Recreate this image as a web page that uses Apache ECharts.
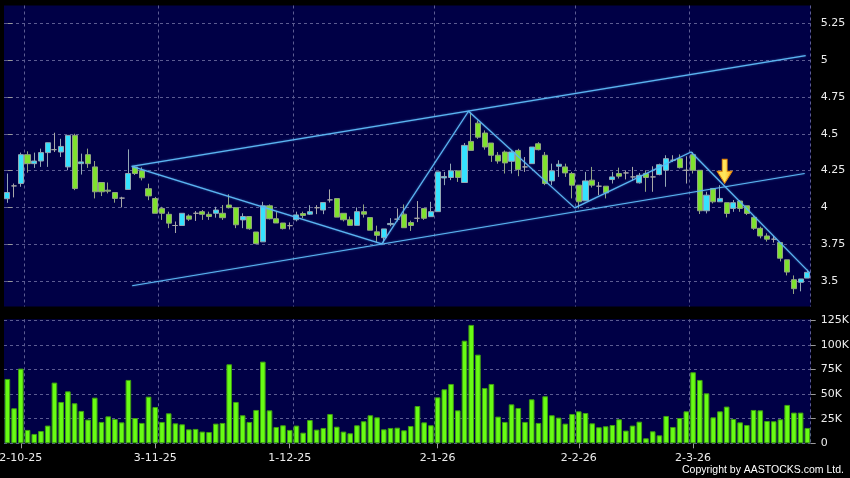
<!DOCTYPE html>
<html>
<head>
<meta charset="utf-8">
<script src="https://cdn.jsdelivr.net/npm/echarts@6/dist/echarts.min.js"></script>
<style>
html,body{margin:0;padding:0;background:#000;}
#c{width:850px;height:478px;}
</style>
</head>
<body>
<div id="c"></div>
<script>
// ---- data ----
var opens = [4.059,4.146,4.162,4.358,4.297,4.315,4.372,4.392,4.376,4.275,4.489,4.297,4.358,4.275,4.169,4.117,4.101,4.063,4.122,4.274,
4.25,4.127,4.06,3.993,3.953,3.877,3.877,3.942,3.96,3.971,3.953,3.96,3.96,4.016,3.998,3.915,3.938,3.833,3.766,4.011,
3.923,3.894,3.876,3.916,3.958,3.954,3.998,3.982,4.051,4.06,3.96,3.916,3.878,3.971,3.931,3.834,3.794,3.883,3.92,3.954,
3.897,3.926,3.993,3.937,3.971,4.2,4.203,4.248,4.169,4.448,4.572,4.505,4.437,4.354,4.376,4.313,4.387,4.275,4.297,4.432,
4.354,4.18,4.279,4.275,4.23,4.151,4.045,4.185,4.144,4.144,4.189,4.23,4.234,4.207,4.167,4.23,4.207,4.223,4.252,4.32,
4.331,4.252,4.358,4.252,3.977,4.128,4.038,4.032,3.993,4.043,4.011,3.932,3.858,3.806,3.784,3.761,3.644,3.509,3.491,3.52];
var closes = [4.101,4.146,4.358,4.297,4.315,4.372,4.439,4.392,4.414,4.489,4.128,4.309,4.297,4.106,4.106,4.11,4.061,4.063,4.23,4.23,
4.201,4.078,3.96,3.96,3.893,3.877,3.96,3.92,3.96,3.953,3.938,3.982,3.93,3.998,3.882,3.938,3.855,3.754,4.011,3.923,
3.894,3.856,3.876,3.949,3.945,3.971,3.998,4.033,4.051,3.934,3.916,3.878,3.971,3.954,3.845,3.81,3.854,3.891,3.92,3.862,
3.877,3.926,3.926,3.971,4.241,4.21,4.248,4.203,4.421,4.387,4.477,4.41,4.354,4.315,4.302,4.376,4.257,4.275,4.41,4.392,
4.162,4.248,4.293,4.234,4.151,4.038,4.18,4.151,4.144,4.099,4.207,4.212,4.234,4.207,4.218,4.203,4.207,4.29,4.331,4.32,
4.27,4.252,4.252,3.977,4.083,4.038,4.061,3.959,4.032,3.993,3.959,3.858,3.806,3.784,3.784,3.655,3.561,3.448,3.514,3.559];
var lows = [4.031,4.068,4.14,4.236,4.268,4.275,4.275,4.376,4.342,4.252,4.117,4.223,4.268,4.061,4.077,4.095,4.032,4.0,4.122,4.22,
4.183,4.049,3.96,3.915,3.859,3.826,3.877,3.908,3.908,3.915,3.915,3.93,3.915,3.993,3.859,3.859,3.848,3.75,3.766,3.918,
3.894,3.85,3.85,3.905,3.927,3.949,3.954,3.954,4.033,3.934,3.905,3.878,3.878,3.931,3.845,3.765,3.761,3.872,3.905,3.862,
3.84,3.9,3.915,3.937,3.971,4.151,4.185,4.173,4.169,4.387,4.465,4.392,4.309,4.297,4.23,4.23,4.212,4.241,4.297,4.387,
4.151,4.151,4.207,4.207,4.061,3.993,4.045,4.135,4.083,4.061,4.162,4.196,4.19,4.18,4.162,4.106,4.106,4.218,4.14,4.309,
4.264,4.162,4.23,3.955,3.959,4.027,4.038,3.932,3.97,3.97,3.948,3.847,3.79,3.768,3.761,3.633,3.538,3.412,3.43,3.52];
var highs = [4.23,4.162,4.372,4.381,4.372,4.399,4.44,4.507,4.466,4.489,4.5,4.365,4.399,4.315,4.169,4.169,4.101,4.072,4.394,4.28,
4.272,4.161,4.071,4.004,3.971,3.904,3.96,3.953,3.975,3.982,3.971,4.004,4.016,4.089,3.998,3.96,3.938,3.833,4.038,4.02,
3.971,3.894,3.898,3.971,3.971,4.015,4.015,4.033,4.122,4.06,3.96,3.938,4.0,4.02,3.931,3.876,3.854,3.927,3.993,4.02,
3.91,4.043,3.993,4.038,4.241,4.241,4.297,4.248,4.437,4.646,4.59,4.523,4.437,4.376,4.387,4.387,4.398,4.342,4.41,4.443,
4.376,4.297,4.32,4.297,4.241,4.151,4.241,4.275,4.173,4.144,4.241,4.27,4.252,4.275,4.234,4.252,4.279,4.297,4.354,4.354,
4.36,4.347,4.376,4.252,4.106,4.128,4.151,4.032,4.05,4.05,4.011,3.941,3.869,3.824,3.806,3.761,3.644,3.538,3.514,3.577];
// volume in thousands of shares
var volumes = [65.4,35.6,75.9,13.6,9.5,12.5,18.0,61.7,42.0,52.8,40.7,32.9,24.1,46.4,21.7,27.4,24.7,21.3,64.4,25.7,
20.7,47.4,36.9,21.7,30.5,20.3,19.3,14.2,14.6,11.9,11.5,20.0,20.7,80.3,42.0,28.5,21.7,33.9,83.0,33.5,
16.6,18.3,13.6,18.0,10.8,23.7,13.9,15.6,29.8,16.9,11.9,10.2,18.3,22.4,28.5,26.4,14.2,15.6,15.9,13.2,
17.6,37.9,21.3,18.3,46.7,54.9,60.3,33.5,104.3,120.3,90.1,56.2,60.3,27.1,21.7,39.6,35.9,21.7,44.7,20.7,
47.8,28.5,26.1,20.0,29.8,32.5,30.8,20.3,16.3,17.3,18.6,24.4,12.9,18.0,22.0,5.1,12.2,8.1,27.8,16.6,
25.7,32.5,72.2,64.4,50.8,26.4,32.5,37.3,24.7,21.3,18.6,33.9,33.5,22.7,22.4,24.4,39.0,31.2,31.2,15.6];
// x-axis tick labels and the bar index each one belongs to
var dateLabels = ['2-10-25','3-11-25','1-12-25','2-1-26','2-2-26','2-3-26'];
var dateLabelIdx = [2,22,42,64,85,102];
var gridLineIdx = [3,23,43,64,85,102];
var priceTicks = [3.5,3.75,4,4.25,4.5,4.75,5,5.25];
var volTicks = [0,25,50,75,100,125];
// trend lines: [bar index, price]
var upperChannel = [[18.5,4.279],[118.75,5.03]];
var lowerChannel = [[18.56,3.468],[118.6,4.23]];
var zigzag = [[18.5,4.279],[55.7,3.752],[68.6,4.653],[84.4,3.997],[101.7,4.376],[119.4,3.554]];
var arrowPoint = [106.7,4.245];

var categories = opens.map(function(_, i){ return String(i); });
var candleData = opens.map(function(o, i){ return [o, closes[i], lows[i], highs[i]]; });

var gridColor = '#5c5c92';
var labelColor = '#ececec';
var lineColor = '#5cb6f2';

var chart = echarts.init(document.getElementById('c'), null, {renderer:'canvas'});
var option = {
  animation: false,
  backgroundColor: '#000',
  grid: [
    {left: 4, right: 39.3, top: 5.5, height: 301, show: true, backgroundColor: '#000046', borderWidth: 0,
     containLabel: false, outerBoundsMode: 'none'},
    {left: 4, right: 39.3, top: 319.3, height: 124, show: true, backgroundColor: '#000046', borderWidth: 0,
     containLabel: false, outerBoundsMode: 'none'}
  ],
  xAxis: [
    {type: 'category', gridIndex: 0, data: categories, boundaryGap: true,
     axisLine: {show: false}, axisTick: {show: false}, axisLabel: {show: false},
     splitLine: {show: true, interval: function(i){ return gridLineIdx.indexOf(i) >= 0; },
                 lineStyle: {color: gridColor, type: [3,3], width: 1}}},
    {type: 'category', gridIndex: 1, data: categories, boundaryGap: true,
     axisLine: {show: false},
     axisTick: {show: true, alignWithLabel: true, length: 5,
                interval: function(i){ return dateLabelIdx.indexOf(i) >= 0; },
                lineStyle: {color: '#9a9a9a'}},
     axisLabel: {show: true, margin: 9, color: labelColor, fontSize: 11, fontFamily: 'DejaVu Sans',
                 interval: function(i){ return dateLabelIdx.indexOf(i) >= 0; },
                 formatter: function(v, i){ var k = dateLabelIdx.indexOf(i); return k >= 0 ? dateLabels[k] : ''; }},
     splitLine: {show: true, interval: function(i){ return gridLineIdx.indexOf(i) >= 0; },
                 lineStyle: {color: gridColor, type: [3,3], width: 1}}},
    {type: 'value', gridIndex: 0, min: -0.5, max: 119.5, show: false}
  ],
  yAxis: [
    {type: 'value', gridIndex: 0, position: 'right', min: 3.327, max: 5.371, scale: true,
     axisLine: {show: false},
     axisTick: {show: true, length: 5, customValues: priceTicks, lineStyle: {color: '#9a9a9a'}},
     axisLabel: {show: true, margin: 10, color: labelColor, fontSize: 11, fontFamily: 'DejaVu Sans',
                 customValues: priceTicks},
     splitLine: {show: true, lineStyle: {color: gridColor, type: [3,3], width: 1}}},
    {type: 'value', gridIndex: 1, position: 'right', min: 0, max: 126,
     axisLine: {show: false},
     axisTick: {show: true, length: 5, customValues: volTicks, lineStyle: {color: '#9a9a9a'}},
     axisLabel: {show: true, margin: 10, color: labelColor, fontSize: 11, fontFamily: 'DejaVu Sans',
                 customValues: volTicks,
                 formatter: function(v){ return v === 0 ? '0' : v + 'K'; }},
     splitLine: {show: true, lineStyle: {color: gridColor, type: [3,3], width: 1}}}
  ],
  series: [
    {type: 'candlestick', xAxisIndex: 0, yAxisIndex: 0, data: candleData, barWidth: 5.6,
     itemStyle: {color: '#35e2ff', color0: '#7fe22e', borderColor: '#93a7b4', borderColor0: '#92a482',
                 borderColorDoji: '#a8a8a8', borderWidth: 1}},
    {type: 'bar', xAxisIndex: 1, yAxisIndex: 1, data: volumes, barWidth: 5.6,
     itemStyle: {color: '#68fc14', borderColor: '#3f9e12', borderWidth: 1}},
    {type: 'line', xAxisIndex: 2, yAxisIndex: 0, data: upperChannel, symbol: 'none',
     lineStyle: {color: lineColor, width: 1.2, shadowColor: 'rgba(90,180,255,0.6)', shadowBlur: 2}},
    {type: 'line', xAxisIndex: 2, yAxisIndex: 0, data: lowerChannel, symbol: 'none',
     lineStyle: {color: lineColor, width: 1.2, shadowColor: 'rgba(90,180,255,0.6)', shadowBlur: 2}},
    {type: 'line', xAxisIndex: 2, yAxisIndex: 0, data: zigzag, symbol: 'none',
     lineStyle: {color: lineColor, width: 1.2, shadowColor: 'rgba(90,180,255,0.6)', shadowBlur: 2},
     markPoint: {
       symbol: 'path://M5,0 L10,0 L10,12 L15,12 L7.5,24 L0,12 L5,12 Z',
       symbolSize: [15, 24], symbolKeepAspect: false,
       label: {show: false},
       itemStyle: {
         color: new echarts.graphic.LinearGradient(0, 0, 1, 0, [
           {offset: 0, color: '#ffd84a'}, {offset: 0.5, color: '#ffe75c'}, {offset: 1, color: '#ffb020'}]),
         borderColor: '#e08a10', borderWidth: 1
       },
       data: [{coord: arrowPoint}]
     }}
  ],
  graphic: [
    {type: 'text', right: 6, top: 465,
     style: {text: 'Copyright by AASTOCKS.com Ltd.', fill: '#ffffff', font: '10.5px "Liberation Sans"'}}
  ]
};
chart.setOption(option);
</script>
</body>
</html>
